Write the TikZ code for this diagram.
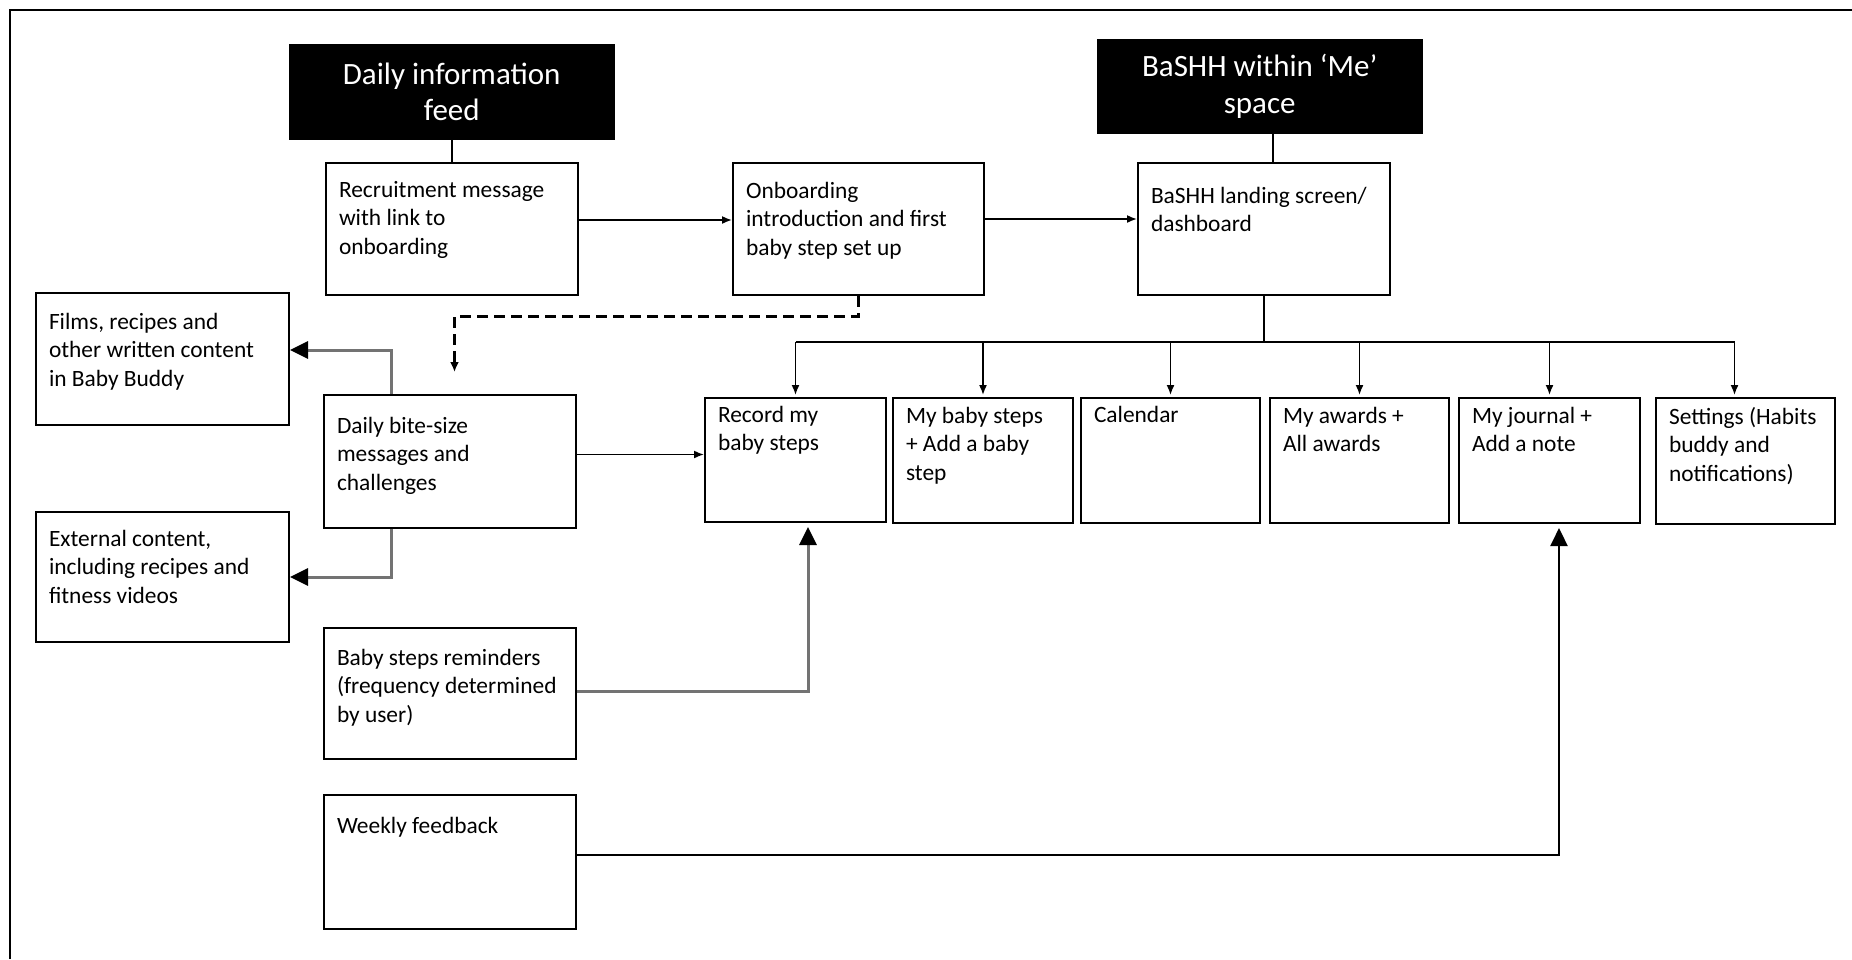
\documentclass[tikz,border=0pt]{standalone}
\usepackage{fontspec}
\setmainfont{Carlito}
\usetikzlibrary{arrows.meta}

% Box contents: width, height, baseline offset of first line, text
\newcommand{\boxtext}[4]{%
  \begin{minipage}[t][#2pt][t]{\dimexpr#1pt-26pt\relax}%
    \vspace*{\dimexpr#3pt-19.95pt\relax}\raggedright\strut #4%
  \end{minipage}}

\tikzset{
  box/.style={draw, line width=2pt, inner xsep=13pt, inner ysep=0pt,
    anchor=north west, font=\fontsize{23.4}{28.5}\selectfont},
  head/.style={fill=black, draw=black, text=white, anchor=north west,
    minimum width=325pt, inner sep=0pt, align=center,
    font=\fontsize{31}{36.5}\selectfont},
  plain/.style={line width=1.6pt},
  link/.style={line width=1.6pt, -{Latex[length=10pt,width=8pt]}},
  dashlink/.style={line width=3pt, dash pattern=on 11pt off 6pt,
    -{Latex[length=10pt,width=9pt]}},
  fork/.style={line width=3pt, draw=black!55,
    -{Triangle[length=18pt,width=17pt,color=black,fill=black]}},
  forkdark/.style={line width=2.2pt, draw=black,
    -{Triangle[length=18pt,width=17pt,color=black,fill=black]}},
}

\begin{document}
\begin{tikzpicture}[x=1pt,y=-1pt]
\useasboundingbox (0,0) rectangle (1852,959);

% outer frame (left and top edges)
\draw[line width=2pt] (10,959) -- (10,10) -- (1852,10);

% section headings
\node[head, minimum height=95pt] (head1) at (289,44) {Daily information\\feed};
\node[head, minimum height=94pt] (head2) at (1097,39) {BaSHH within ‘Me’\\space};

% top row
\node[box] (rec) at (325,162) {\boxtext{252}{132}{34}{Recruitment message\\with link to\\onboarding}};
\node[box] (onb) at (732,162) {\boxtext{251}{132}{35}{Onboarding\\introduction and first\\baby step set up}};
\node[box] (land) at (1137,162) {\boxtext{252}{132}{40}{BaSHH landing screen/\\dashboard}};

% left column
\node[box] (films) at (35,292) {\boxtext{253}{132}{36}{Films, recipes and\\other written content\\in Baby Buddy}};
\node[box] (daily) at (323,394) {\boxtext{252}{133}{38}{Daily bite-size\\messages and\\challenges}};
\node[box] (ext) at (35,511) {\boxtext{253}{130}{34}{External content,\\including recipes and\\fitness videos}};
\node[box] (rem) at (323,627) {\boxtext{252}{131}{37}{Baby steps reminders\\(frequency determined\\by user)}};
\node[box] (week) at (323,794) {\boxtext{252}{134}{38}{Weekly feedback}};

% dashboard sections
\node[box] (record) at (704,397) {\boxtext{181}{124}{24}{Record my\\baby steps}};
\node[box] (mbs) at (892,397) {\boxtext{180}{125}{25}{My baby steps\\+ Add a baby\\step}};
\node[box] (cal) at (1080,397) {\boxtext{179}{125}{24}{Calendar}};
\node[box] (awards) at (1269,397) {\boxtext{179}{125}{25}{My awards +\\All awards}};
\node[box] (journal) at (1458,397) {\boxtext{181}{125}{25}{My journal +\\Add a note}};
\node[box] (settings) at (1655,397) {\boxtext{179}{126}{26}{Settings (Habits\\buddy and\\notifications)}};

% headings to their first screens
\draw[plain] (head1.south) -- (head1.south |- rec.north);
\draw[plain] ([xshift=13.5pt]head2.south) -- ([xshift=13.5pt]head2.south |- land.north);

% onboarding flow
\draw[link] ([yshift=9pt]rec.east) -- ([yshift=9pt]rec.east -| onb.west);
\draw[link] ([yshift=10pt]onb.east) -- ([yshift=10pt]onb.east -| land.west);
\draw[dashlink] (onb.south) -- ++(0,20) -| ([xshift=4.5pt,yshift=22pt]daily.north);

% daily messages
\draw[fork] ([xshift=-59pt]daily.north) |- ([yshift=9pt]films.east);
\draw[fork] ([xshift=-59pt]daily.south) |- (ext.east);
\draw[link] ([yshift=7pt]daily.east) -- ([yshift=7pt]daily.east -| record.west);

% dashboard branches
\coordinate (hub) at ([yshift=-46pt]land.south);
\coordinate (setin) at ([xshift=-11pt]settings.north);
\draw[plain] (land.south) -- (hub);
\draw[plain] (hub -| record.north) -- (hub -| setin);
\foreach \n in {record,mbs,cal,awards,journal}
  \draw[link] (hub -| \n.north) -- ([yshift=2pt]\n.north);
\draw[link] (hub -| setin) -- ([yshift=2pt]setin);

% reminders and feedback
\draw[fork] ([yshift=2.5pt]rem.east) -| ([xshift=12.5pt,yshift=-4pt]record.south);
\draw[forkdark] ([yshift=7pt]week.east) -| ([xshift=9.5pt,yshift=-4pt]journal.south);
\end{tikzpicture}
\end{document}
